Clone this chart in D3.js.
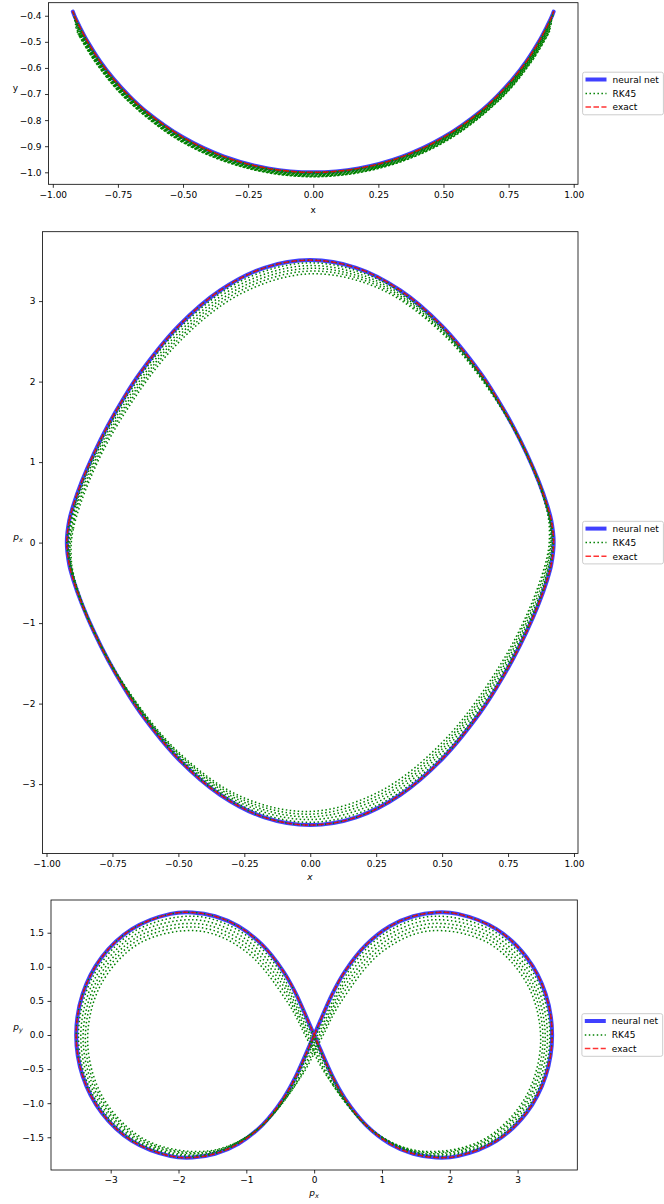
<!DOCTYPE html>
<html><head><meta charset="utf-8">
<script src="https://cdn.jsdelivr.net/npm/d3@7"></script>
<style>
body{margin:0;background:#fff;}
svg{display:block;font-family:"DejaVu Sans",sans-serif;}
</style></head><body>
<svg id="chart" width="664" height="1204"></svg>
<script>
// ---- exact trajectory (one period) ----
const exactX = [-0.923,-0.914,-0.899,-0.866,-0.819,-0.766,-0.707,-0.643,-0.500,-0.342,-0.174,0,0.174,0.342,0.500,0.643,0.707,0.766,0.819,0.866,0.899,0.914,0.923,
  0.914,0.899,0.866,0.819,0.766,0.707,0.643,0.500,0.342,0.174,0,-0.174,-0.342,-0.500,-0.643,-0.707,-0.766,-0.819,-0.866,-0.899,-0.914];
const exactY = [-0.384,-0.407,-0.438,-0.500,-0.574,-0.643,-0.707,-0.766,-0.866,-0.940,-0.985,-1.000,-0.985,-0.940,-0.866,-0.766,-0.707,-0.643,-0.574,-0.500,-0.438,-0.407,-0.384,
  -0.407,-0.438,-0.500,-0.574,-0.643,-0.707,-0.766,-0.866,-0.940,-0.985,-1.000,-0.985,-0.940,-0.866,-0.766,-0.707,-0.643,-0.574,-0.500,-0.438,-0.407];
const exactPx = [0,0.272,0.456,0.761,1.116,1.462,1.797,2.117,2.688,3.132,3.413,3.509,3.413,3.132,2.688,2.117,1.797,1.462,1.116,0.761,0.456,0.272,0,
  -0.272,-0.456,-0.761,-1.116,-1.462,-1.797,-2.117,-2.688,-3.132,-3.413,-3.509,-3.413,-3.132,-2.688,-2.117,-1.797,-1.462,-1.116,-0.761,-0.456,-0.272];
const exactPy = [0,-0.611,-0.935,-1.317,-1.594,-1.742,-1.797,-1.776,-1.552,-1.140,-0.602,0,0.602,1.140,1.552,1.776,1.797,1.742,1.594,1.317,0.935,0.611,0,
  -0.611,-0.935,-1.317,-1.594,-1.742,-1.797,-1.776,-1.552,-1.140,-0.602,0,0.602,1.140,1.552,1.776,1.797,1.742,1.594,1.317,0.935,0.611];

// ---- neural net: overlays the exact orbit at the resolution of the picture ----
const nnX = exactX, nnY = exactY, nnPx = exactPx, nnPy = exactPy;

// ---- RK45: drifting cycles (outer = start, inner = end) ----
const rk45X = [
 exactX,
 [-0.920,-0.886,-0.822,-0.710,-0.502,-0.260,0,0.260,0.502,0.710,0.822,0.886,0.920,0.886,0.822,0.710,0.502,0.260,0,-0.260,-0.502,-0.710,-0.822,-0.886],
 [-0.917,-0.889,-0.825,-0.712,-0.503,-0.261,0,0.261,0.503,0.712,0.825,0.889,0.917,0.889,0.825,0.712,0.503,0.261,0,-0.261,-0.503,-0.712,-0.825,-0.889],
 [-0.914,-0.892,-0.828,-0.714,-0.505,-0.262,0,0.262,0.505,0.714,0.828,0.892,0.914,0.892,0.828,0.714,0.505,0.262,0,-0.262,-0.505,-0.714,-0.828,-0.892],
 [-0.911,-0.895,-0.830,-0.717,-0.507,-0.262,0,0.262,0.507,0.717,0.830,0.895,0.911,0.895,0.830,0.717,0.507,0.262,0,-0.262,-0.507,-0.717,-0.830,-0.895],
 [-0.907,-0.898,-0.833,-0.719,-0.509,-0.263,0,0.263,0.509,0.719,0.833,0.898,0.907,0.898,0.833,0.719,0.509,0.263,0,-0.263,-0.509,-0.719,-0.833,-0.898]
];
const rk45Y = [
 exactY,
 [-0.400,-0.471,-0.576,-0.710,-0.869,-0.969,-1.003,-0.969,-0.869,-0.710,-0.576,-0.471,-0.400,-0.471,-0.576,-0.710,-0.869,-0.969,-1.003,-0.969,-0.869,-0.710,-0.576,-0.471],
 [-0.415,-0.473,-0.578,-0.712,-0.872,-0.973,-1.007,-0.973,-0.872,-0.712,-0.578,-0.473,-0.415,-0.473,-0.578,-0.712,-0.872,-0.973,-1.007,-0.973,-0.872,-0.712,-0.578,-0.473],
 [-0.430,-0.474,-0.579,-0.714,-0.875,-0.976,-1.010,-0.976,-0.875,-0.714,-0.579,-0.474,-0.430,-0.474,-0.579,-0.714,-0.875,-0.976,-1.010,-0.976,-0.875,-0.714,-0.579,-0.474],
 [-0.445,-0.476,-0.581,-0.717,-0.878,-0.979,-1.014,-0.979,-0.878,-0.717,-0.581,-0.476,-0.445,-0.476,-0.581,-0.717,-0.878,-0.979,-1.014,-0.979,-0.878,-0.717,-0.581,-0.476],
 [-0.460,-0.478,-0.583,-0.719,-0.881,-0.982,-1.017,-0.982,-0.881,-0.719,-0.583,-0.478,-0.460,-0.478,-0.583,-0.719,-0.881,-0.982,-1.017,-0.982,-0.881,-0.719,-0.583,-0.478]
];
const rk45Px = [
 exactPx,
 [-0.022,0.540,1.056,1.743,2.641,3.254,3.475,3.266,2.665,1.777,1.096,0.582,0.022,-0.540,-1.056,-1.743,-2.641,-3.254,-3.475,-3.266,-2.665,-1.777,-1.096,-0.582],
 [-0.044,0.463,0.996,1.690,2.595,3.214,3.441,3.238,2.643,1.758,1.074,0.547,0.044,-0.463,-0.996,-1.690,-2.595,-3.214,-3.441,-3.238,-2.643,-1.758,-1.074,-0.547],
 [-0.065,0.379,0.933,1.635,2.547,3.172,3.407,3.210,2.619,1.737,1.051,0.507,0.065,-0.379,-0.933,-1.635,-2.547,-3.172,-3.407,-3.210,-2.619,-1.737,-1.051,-0.507],
 [-0.086,0.285,0.869,1.581,2.501,3.133,3.373,3.183,2.597,1.717,1.027,0.455,0.086,-0.285,-0.869,-1.581,-2.501,-3.133,-3.373,-3.183,-2.597,-1.717,-1.027,-0.455],
 [-0.107,0.175,0.804,1.526,2.453,3.092,3.339,3.154,2.573,1.696,1.000,0.387,0.107,-0.175,-0.804,-1.526,-2.453,-3.092,-3.339,-3.154,-2.573,-1.696,-1.000,-0.387]
];
const rk45Py = [
 exactPy,
 [-0.010,-1.066,-1.551,-1.777,-1.553,-0.896,-0.024,0.850,1.511,1.743,1.523,1.044,-0.010,-1.066,-1.551,-1.777,-1.553,-0.896,-0.024,0.850,1.511,1.743,1.523,1.044],
 [-0.020,-0.973,-1.506,-1.758,-1.554,-0.910,-0.048,0.818,1.470,1.690,1.450,0.927,-0.020,-0.973,-1.506,-1.758,-1.554,-0.910,-0.048,0.818,1.470,1.690,1.450,0.927],
 [-0.031,-0.867,-1.458,-1.737,-1.554,-0.925,-0.072,0.785,1.430,1.635,1.376,0.799,-0.031,-0.867,-1.458,-1.737,-1.554,-0.925,-0.072,0.785,1.430,1.635,1.376,0.799],
 [-0.042,-0.742,-1.409,-1.717,-1.555,-0.939,-0.096,0.753,1.389,1.581,1.299,0.652,-0.042,-0.742,-1.409,-1.717,-1.555,-0.939,-0.096,0.753,1.389,1.581,1.299,0.652],
 [-0.054,-0.584,-1.358,-1.696,-1.555,-0.953,-0.120,0.721,1.347,1.526,1.220,0.472,-0.054,-0.584,-1.358,-1.696,-1.555,-0.953,-0.120,0.721,1.347,1.526,1.220,0.472]
];

// ---- tick labels ----
const xTicks1 = [-1.00,-0.75,-0.50,-0.25,0.00,0.25,0.50,0.75,1.00];
const yTicks1 = [-1.0,-0.9,-0.8,-0.7,-0.6,-0.5,-0.4];
const xTicks2 = [-1.00,-0.75,-0.50,-0.25,0.00,0.25,0.50,0.75,1.00];
const yTicks2 = [-3,-2,-1,0,1,2,3];
const xTicks3 = [-3,-2,-1,0,1,2,3];
const yTicks3 = [-1.5,-1.0,-0.5,0.0,0.5,1.0,1.5];
const legendLabels = ["neural net","RK45","exact"];

const FS = "9px";
const svg = d3.select("#chart");

const panels = [
  {left:48.5, right:578, top:2.7, bottom:184.3, xd:[-1.0165,1.0165], yd:[-1.046,-0.350],
   xt:xTicks1, yt:yTicks1, xf:".2f", yf:".1f",
   fx:"x", fy:"y",
   xlabel:{x:313.2, y:213, main:"x", sub:null, italic:false},
   ylabel:{x:15.5, y:91, main:"y", sub:null, italic:false}},
  {left:42.5, right:578, top:231.7, bottom:853.5, xd:[-1.0152,1.0152], yd:[-3.862,3.862],
   xt:xTicks2, yt:yTicks2, xf:".2f", yf:"d",
   fx:"x", fy:"px",
   xlabel:{x:310, y:880, main:"x", sub:null, italic:true},
   ylabel:{x:18, y:539.5, main:"p", sub:"x", italic:true}},
  {left:51, right:577.3, top:900, bottom:1170, xd:[-3.88,3.88], yd:[-1.98,1.98],
   xt:xTicks3, yt:yTicks3, xf:"d", yf:".1f",
   fx:"px", fy:"py",
   xlabel:{x:314, y:1195.5, main:"p", sub:"x", italic:true},
   ylabel:{x:18, y:1029.5, main:"p", sub:"y", italic:true}}
];

function series(X, Y, PX, PY){
  return X.map((_, i) => ({x:X[i], y:Y[i], px:PX[i], py:PY[i]}));
}
const nnData = series(nnX, nnY, nnPx, nnPy);
const exactData = series(exactX, exactY, exactPx, exactPy);
const rkData = rk45X.map((_, k) => series(rk45X[k], rk45Y[k], rk45Px[k], rk45Py[k]));

const styles = {
  nn: {stroke:"#0000ff", width:4, opacity:0.75, dash:null},
  rk: {stroke:"#008000", width:1.5, opacity:1, dash:"1.5,2.48"},
  ex: {stroke:"#ff0000", width:1.5, opacity:0.8, dash:"5.55,2.4"}
};

function label(g, L){
  const t = g.append("text").attr("x", L.x).attr("y", L.y)
    .attr("text-anchor","middle").attr("font-size",FS).attr("fill","#000");
  t.append("tspan").text(L.main).attr("font-style", L.italic ? "italic" : "normal");
  if (L.sub) t.append("tspan").text(L.sub).attr("font-style","italic")
      .attr("font-size","6.5px").attr("dy", 2);
}

panels.forEach(p => {
  const xs = d3.scaleLinear().domain(p.xd).range([p.left, p.right]);
  const ys = d3.scaleLinear().domain(p.yd).range([p.bottom, p.top]);
  const g = svg.append("g");

  const line = d3.line().x(d => xs(d[p.fx])).y(d => ys(d[p.fy]))
    .curve(d3.curveCatmullRomClosed.alpha(0.5));

  // neural net
  g.append("path").datum(nnData).attr("d", line).attr("fill","none")
    .attr("stroke", styles.nn.stroke).attr("stroke-opacity", styles.nn.opacity)
    .attr("stroke-width", styles.nn.width).attr("stroke-linejoin","round");
  // RK45
  rkData.forEach(d => {
    g.append("path").datum(d).attr("d", line).attr("fill","none")
      .attr("stroke", styles.rk.stroke).attr("stroke-width", styles.rk.width)
      .attr("stroke-dasharray", styles.rk.dash).attr("stroke-linejoin","round");
  });
  // exact
  g.append("path").datum(exactData).attr("d", line).attr("fill","none")
    .attr("stroke", styles.ex.stroke).attr("stroke-opacity", styles.ex.opacity)
    .attr("stroke-width", styles.ex.width).attr("stroke-dasharray", styles.ex.dash)
    .attr("stroke-linejoin","round");

  // axes
  const xa = g.append("g").attr("transform", `translate(0,${p.bottom})`)
    .call(d3.axisBottom(xs).tickValues(p.xt).tickFormat(d3.format(p.xf)).tickSize(3.5).tickPadding(3.5).tickSizeOuter(0));
  const ya = g.append("g").attr("transform", `translate(${p.left},0)`)
    .call(d3.axisLeft(ys).tickValues(p.yt).tickFormat(d3.format(p.yf)).tickSize(3.5).tickPadding(3.5).tickSizeOuter(0));
  [xa, ya].forEach(a => {
    a.select(".domain").remove();
    a.selectAll(".tick line").attr("stroke","#000").attr("stroke-width",0.8);
    a.selectAll(".tick text").attr("font-size",FS).attr("font-family","DejaVu Sans, sans-serif").attr("fill","#000");
  });
  // frame
  g.append("rect").attr("x", p.left).attr("y", p.top)
    .attr("width", p.right - p.left).attr("height", p.bottom - p.top)
    .attr("fill","none").attr("stroke","#000").attr("stroke-width",0.8);

  label(g, p.xlabel);
  label(g, p.ylabel);

  // legend
  const cy = (p.top + p.bottom) / 2;
  const lg = g.append("g");
  lg.append("rect").attr("x", p.right + 4.6).attr("y", cy - 21.3)
    .attr("width", 80.8).attr("height", 42.6).attr("rx", 2)
    .attr("fill","#fff").attr("fill-opacity",0.8)
    .attr("stroke","#cccccc").attr("stroke-width",1);
  const keys = ["nn","rk","ex"];
  const offs = [-14, 0, 13.6];
  keys.forEach((k, i) => {
    const s = styles[k];
    const yy = cy + offs[i];
    lg.append("line").attr("x1", p.right + 7.5).attr("x2", p.right + 28.5)
      .attr("y1", yy).attr("y2", yy)
      .attr("stroke", s.stroke).attr("stroke-width", s.width)
      .attr("stroke-opacity", s.opacity).attr("stroke-dasharray", s.dash);
    lg.append("text").attr("x", p.right + 34.5).attr("y", yy + 3.3)
      .attr("font-size",FS).attr("fill","#000").text(legendLabels[i]);
  });
});
</script>
</body></html>
